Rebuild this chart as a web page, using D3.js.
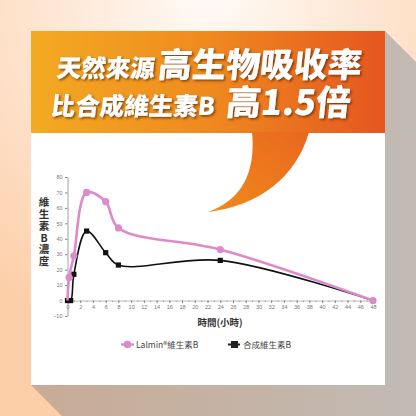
<!DOCTYPE html>
<html>
<head>
<meta charset="utf-8">
<script src="https://cdn.jsdelivr.net/npm/d3@7"></script>
<style>
  html, body { margin: 0; padding: 0; background: #fff; }
  svg { display: block; }
  .tick text { font-family: "Liberation Sans", Arial, sans-serif; }
</style>
</head>
<body>
<script>
// 資料
var pinkHours = [0, 0.25, 1, 3, 6, 8, 24, 48];
var pinkValues = [0, 15, 29, 70, 64, 47, 33, 0];
var blackHours = [0, 0.5, 1, 3, 6, 8, 24, 48];
var blackValues = [0, 0, 17, 45, 31, 23, 26, 0];
var xTicks = d3.range(0, 49, 2);
var yTicks = [-10, 0, 10, 20, 30, 40, 50, 60, 70, 80];
var seriesNames = ['Lalmin®維生素B', '合成維生素B'];

var W = 416, H = 416;
var svg = d3.select('body').append('svg')
    .attr('width', W)
    .attr('height', H);

var defs = svg.append('defs');

// 背景漸層
var bg = defs.append('radialGradient').attr('id', 'bg')
    .attr('cx', '50%').attr('cy', '0%').attr('r', '85%');
bg.append('stop').attr('offset', '0%').attr('stop-color', '#fffaf6');
bg.append('stop').attr('offset', '100%').attr('stop-color', '#fdcfa9');

var shadow = defs.append('linearGradient').attr('id', 'shadow')
    .attr('x1', '0%').attr('x2', '100%').attr('y1', '0%').attr('y2', '0%');
shadow.append('stop').attr('offset', '0%').attr('stop-color', '#c8ab96');
shadow.append('stop').attr('offset', '55%').attr('stop-color', '#c0bdba');
shadow.append('stop').attr('offset', '100%').attr('stop-color', '#c1a188');

var banner = defs.append('linearGradient').attr('id', 'banner')
    .attr('x1', '0%').attr('x2', '100%');
banner.append('stop').attr('offset', '0%').attr('stop-color', '#f3aa22');
banner.append('stop').attr('offset', '50%').attr('stop-color', '#ef8a1e');
banner.append('stop').attr('offset', '100%').attr('stop-color', '#e5561f');

var tail = defs.append('linearGradient').attr('id', 'tail')
    .attr('x1', '0%').attr('x2', '100%').attr('y1', '100%').attr('y2', '0%');
tail.append('stop').attr('offset', '0%').attr('stop-color', '#f08a1c');
tail.append('stop').attr('offset', '100%').attr('stop-color', '#e9681e');

var ds = defs.append('filter').attr('id', 'ds')
    .attr('x', '-10%').attr('y', '-20%').attr('width', '130%').attr('height', '150%');
ds.append('feDropShadow').attr('dx', 1.5).attr('dy', 1.5)
    .attr('stdDeviation', 1).attr('flood-color', '#5a2a00').attr('flood-opacity', 0.75);

svg.append('rect').attr('width', W).attr('height', H).attr('fill', 'url(#bg)');

// 卡片陰影
var L = 500;
svg.append('path')
    .attr('d', 'M385,31 L' + (385 + L) + ',' + (31 + L) + ' L' + (31 + L) + ',' + (385 + L) +
        ' L31,385 L385,385 Z')
    .attr('fill', 'url(#shadow)');

// 白色卡片 + 橘色標題
svg.append('rect').attr('x', 31).attr('y', 31).attr('width', 354).attr('height', 354).attr('fill', '#fff');
svg.append('rect').attr('x', 31).attr('y', 31).attr('width', 354).attr('height', 102).attr('fill', 'url(#banner)');
svg.append('path')
    .attr('d', 'M252,132 C256,172 242,200 208,212 C258,206 296,178 309,132 Z')
    .attr('fill', 'url(#tail)');

var title = svg.append('g')
    .attr('filter', 'url(#ds)')
    .attr('font-family', '"Noto Sans CJK TC", sans-serif')
    .attr('font-weight', 900)
    .attr('fill', '#fff');

var t1 = title.append('text').attr('transform', 'translate(56,77) skewX(-6)');
t1.append('tspan').attr('font-size', 24.5).text('天然來源');
t1.append('tspan').attr('font-size', 34).attr('dx', 3).text('高生物吸收率');

var t2 = title.append('text').attr('transform', 'translate(50,115) skewX(-6)');
t2.append('tspan').attr('font-size', 24.5).text('比合成維生素B');
t2.append('tspan').attr('font-size', 35).attr('dx', 11).text('高1.5倍');

// 比例尺
var x = d3.scaleLinear().domain([0, 48]).range([67.5, 373]);
var y = d3.scaleLinear().domain([-10, 80]).range([316, 177]);

// 畫出X軸 (小刻度)
svg.append('g')
    .attr('transform', 'translate(0,' + y(0) + ')')
    .call(d3.axisBottom(x).tickValues(d3.range(0, 49, 1)).tickSize(1.5).tickSizeOuter(0).tickFormat(''))
    .call(function(g){ g.select('.domain').remove(); })
    .selectAll('line').attr('stroke', '#999');

var xAxis = svg.append('g')
    .attr('transform', 'translate(0,' + y(0) + ')')
    .call(d3.axisBottom(x).tickValues(xTicks).tickSize(2.5).tickSizeOuter(0).tickPadding(2.5));
xAxis.selectAll('text').attr('font-size', 5.5).attr('fill', '#777');
xAxis.selectAll('line').attr('stroke', '#888');
xAxis.select('.domain').attr('stroke', '#aaa').attr('stroke-width', 0.8);

// 畫出Y軸
var yAxis = svg.append('g')
    .attr('transform', 'translate(' + x(0) + ',0)')
    .call(d3.axisLeft(y).tickValues(yTicks).tickSize(2.5).tickSizeOuter(0).tickPadding(2.5));
yAxis.selectAll('text').attr('font-size', 5.5).attr('fill', '#777');
yAxis.selectAll('line').attr('stroke', '#888');
yAxis.select('.domain').attr('stroke', '#888').attr('stroke-width', 0.8);

// 軸標題 (直排)
svg.append('text')
    .attr('x', 44)
    .attr('y', 197)
    .attr('font-family', '"Noto Sans CJK TC", sans-serif')
    .attr('font-weight', 700)
    .attr('font-size', 10.5)
    .attr('fill', '#333')
    .style('writing-mode', 'vertical-rl')
    .style('text-orientation', 'upright')
    .style('letter-spacing', '1.3px')
    .text('維生素B濃度');

svg.append('text')
    .attr('x', 220).attr('y', 326)
    .attr('text-anchor', 'middle')
    .attr('font-family', '"Noto Sans CJK TC", sans-serif')
    .attr('font-weight', 700)
    .attr('font-size', 9.5)
    .attr('fill', '#333')
    .text('時間(小時)');

// 曲線
var line = d3.line()
    .x(function(d){ return x(d[0]); })
    .y(function(d){ return y(d[1]); })
    .curve(d3.curveCatmullRom.alpha(0.5));

var blackData = d3.zip(blackHours, blackValues);
var pinkData = d3.zip(pinkHours, pinkValues);

svg.append('path').datum(blackData)
    .attr('d', line)
    .attr('fill', 'none')
    .attr('stroke', '#111')
    .attr('stroke-width', 1.6);

svg.append('g').selectAll('rect')
    .data(blackData)
    .enter()
    .append('rect')
    .attr('x', function(d){ return x(d[0]) - 2.6; })
    .attr('y', function(d){ return y(d[1]) - 2.6; })
    .attr('width', 5.2).attr('height', 5.2)
    .attr('fill', '#111');

svg.append('path').datum(pinkData)
    .attr('d', line)
    .attr('fill', 'none')
    .attr('stroke', '#dd8bc8')
    .attr('stroke-width', 2.6);

svg.append('g').selectAll('circle')
    .data(pinkData.slice(1))
    .enter()
    .append('circle')
    .attr('cx', function(d){ return x(d[0]); })
    .attr('cy', function(d){ return y(d[1]); })
    .attr('r', 3.6)
    .attr('fill', '#dd8bc8');

// 圖例
var legend = svg.append('g')
    .attr('font-family', '"Noto Sans CJK TC", sans-serif')
    .attr('font-size', 8.5)
    .attr('fill', '#444');

legend.append('line').attr('x1', 121).attr('x2', 134).attr('y1', 344.5).attr('y2', 344.5)
    .attr('stroke', '#dd8bc8').attr('stroke-width', 2.4);
legend.append('circle').attr('cx', 127.5).attr('cy', 344.5).attr('r', 3.8).attr('fill', '#dd8bc8');
legend.append('text').attr('x', 136).attr('y', 347.5).text(seriesNames[0]);

legend.append('line').attr('x1', 228).attr('x2', 240).attr('y1', 344.5).attr('y2', 344.5)
    .attr('stroke', '#222').attr('stroke-width', 2);
legend.append('rect').attr('x', 231).attr('y', 341).attr('width', 7).attr('height', 7).attr('fill', '#222');
legend.append('text').attr('x', 243).attr('y', 347.5).text(seriesNames[1]);
</script>
</body>
</html>
